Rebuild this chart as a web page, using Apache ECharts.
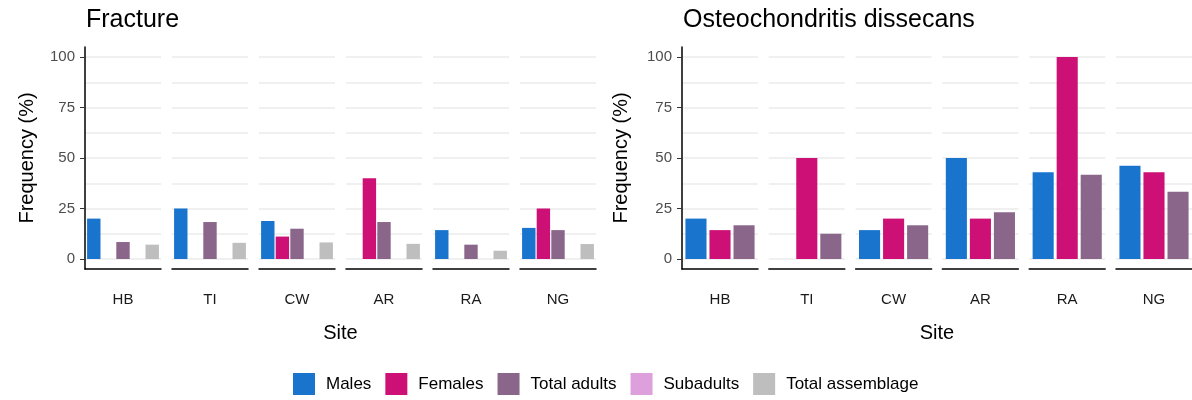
<!DOCTYPE html>
<html>
<head>
<meta charset="utf-8">
<script src="https://cdn.jsdelivr.net/npm/echarts@6/dist/echarts.min.js"></script>
<style>
  html, body { margin: 0; padding: 0; background: #fff; }
  #chart { width: 1192px; height: 400px; }
</style>
</head>
<body>
<div id="chart"></div>
<script>
// ---- Data ----
const sites = ['HB', 'TI', 'CW', 'AR', 'RA', 'NG'];
const groupNames = ['Males', 'Females', 'Total adults', 'Subadults', 'Total assemblage'];
const yTicks = [0, 25, 50, 75, 100];

// Fracture panel (%)
const fracMales = [20, 25, 18.8, 0, 14.3, 15.4];
const fracFemales = [0, 0, 11.1, 40, 0, 25];
const fracTotalAdults = [8.4, 18.3, 15.0, 18.3, 7.1, 14.3];
const fracSubadults = [0, 0, 0, 0, 0, 0];
const fracTotalAssemblage = [7.1, 8.0, 8.2, 7.5, 4.1, 7.4];

// Osteochondritis dissecans panel (%)
const ocdMales = [20, 0, 14.3, 50, 42.9, 46.2];
const ocdFemales = [14.3, 50, 20, 20, 100, 42.9];
const ocdTotalAdults = [16.7, 12.5, 16.7, 23.1, 41.7, 33.3];

// ---- Styling ----
const colors = ['#1874CD', '#CD1076', '#8B668B', '#DDA0DD', '#BEBEBE'];
const FONT = "'Liberation Sans', Arial, sans-serif";
const GRID_COLOR = '#EBEBEB';

const panels = [
  { title: 'Fracture', x0: 85, step: 87, w: 76,
    values: [fracMales, fracFemales, fracTotalAdults, fracSubadults, fracTotalAssemblage],
    catGap: '5.5%', barGap: '9%', titleLeft: 86, yNameGap: 48 },
  { title: 'Osteochondritis dissecans', x0: 682, step: 86.8, w: 76,
    values: [ocdMales, ocdFemales, ocdTotalAdults],
    catGap: '9%', barGap: '14%', titleLeft: 683, yNameGap: 51 }
];

const grid = [], xAxis = [], yAxis = [], series = [], title = [];
const FACET_TOP = 57, FACET_H = 202;

panels.forEach(function (p) {
  title.push({
    text: p.title, left: p.titleLeft, top: 8, padding: 0,
    textStyle: { fontSize: 25, fontWeight: 'normal', color: '#000', fontFamily: FONT }
  });

  // helper grid: full y-axis line (with ggplot expansion) + "Site" title
  const hg = grid.length;
  grid.push({ left: p.x0, top: FACET_TOP - 10, width: 5 * p.step + p.w, height: FACET_H + 20 });
  xAxis.push({
    type: 'value', gridIndex: hg, min: 0, max: 1,
    axisLine: { show: false }, axisTick: { show: false }, axisLabel: { show: false },
    splitLine: { show: false },
    name: 'Site', nameLocation: 'middle', nameGap: 54,
    nameTextStyle: { fontSize: 20, color: '#000', fontFamily: FONT }
  });
  yAxis.push({
    type: 'value', gridIndex: hg, min: -5, max: 105,
    axisLine: { show: true, onZero: false, lineStyle: { color: '#000', width: 1.5 } },
    axisTick: { show: false }, axisLabel: { show: false }, splitLine: { show: false }
  });

  sites.forEach(function (site, k) {
    const g = grid.length;
    grid.push({ left: p.x0 + k * p.step, top: FACET_TOP, width: p.w, height: FACET_H });
    xAxis.push({
      type: 'category', gridIndex: g, data: [site], offset: 10,
      axisLine: { show: true, onZero: false, lineStyle: { color: '#000', width: 1.5 } },
      axisTick: { show: false },
      axisLabel: { margin: 23, fontSize: 15, color: '#1A1A1A', fontFamily: FONT },
      splitLine: { show: false }
    });
    const first = k === 0;
    yAxis.push({
      type: 'value', gridIndex: g, min: yTicks[0], max: yTicks[yTicks.length - 1], interval: 25,
      axisLine: { show: false },
      axisTick: first ? { show: true, length: 5, lineStyle: { color: '#333', width: 1 } } : { show: false },
      axisLabel: first ? { show: true, margin: 10, fontSize: 15, color: '#4D4D4D', fontFamily: FONT } : { show: false },
      splitLine: { show: true, lineStyle: { color: GRID_COLOR, width: 1.6 } },
      minorTick: { show: false, splitNumber: 2 },
      minorSplitLine: { show: true, lineStyle: { color: GRID_COLOR, width: 1.6 } },
      name: first ? 'Frequency (%)' : '',
      nameLocation: 'middle', nameGap: first ? p.yNameGap : 0,
      nameTextStyle: { fontSize: 20, color: '#000', fontFamily: FONT }
    });
    p.values.forEach(function (arr, i) {
      series.push({
        type: 'bar', name: groupNames[i], xAxisIndex: g, yAxisIndex: g,
        data: [arr[k]],
        barGap: p.barGap, barCategoryGap: p.catGap,
        itemStyle: { color: colors[i] },
        emphasis: { disabled: true }
      });
    });
  });
});

const chart = echarts.init(document.getElementById('chart'), null, { renderer: 'canvas' });
chart.setOption({
  animation: false,
  backgroundColor: '#fff',
  textStyle: { fontFamily: FONT },
  title: title,
  legend: {
    data: groupNames, left: 293, top: 373, icon: 'rect', padding: 0,
    itemWidth: 22, itemHeight: 22, itemGap: 14,
    selectedMode: false,
    textStyle: { fontSize: 17, color: '#000', fontFamily: FONT, padding: [0, 0, 0, 6] }
  },
  grid: grid, xAxis: xAxis, yAxis: yAxis, series: series
});
</script>
</body>
</html>
